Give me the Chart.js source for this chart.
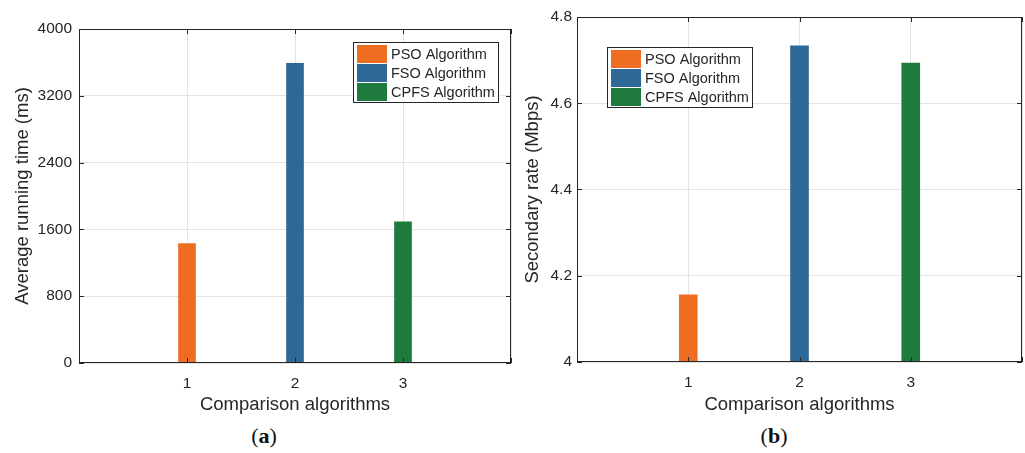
<!DOCTYPE html>
<html>
<head>
<meta charset="utf-8">
<script src="https://cdn.jsdelivr.net/npm/chart.js@4.4.0/dist/chart.umd.min.js"></script>
<style>
    body { margin: 0; background: #fff; width: 1025px; height: 453px; position: relative; overflow: hidden; }
    canvas { position: absolute; top: 0; }
    #chartA { left: 0; }
    #chartB { left: 512px; }
    .cap { position: absolute; top: 423px; font-family: "Liberation Serif", "DejaVu Serif", serif; font-size: 22px; color: #111; transform: translateX(-50%); }
</style>
</head>
<body>
<canvas id="chartA" width="512" height="420"></canvas>
<canvas id="chartB" width="513" height="420"></canvas>
<div class="cap" style="left:264px">(<b>a</b>)</div>
<div class="cap" style="left:774px">(<b>b</b>)</div>

<script>
    // data
    const algorithms = ['PSO Algorithm', 'FSO Algorithm', 'CPFS Algorithm']
    const positions = [1, 2, 3]
    const runningTime = [1429, 3589, 1692]        // ms
    const secondaryRate = [4.156, 4.733, 4.693]   // Mbps
    const xTicks = [0, 1, 2, 3, 4]
    const timeTicks = [0, 800, 1600, 2400, 3200, 4000]
    const rateTicks = [4, 4.2, 4.4, 4.6, 4.8]

    const barColors = ['#ef6c23', '#2d6896', '#1e7b3d']
    const textColor = '#262626'
    const fontFamily = '"Liberation Sans", Arial, sans-serif'

    // MATLAB style box with inward ticks on all four sides
    const boxTicks = {
        id: 'boxTicks',
        afterDatasetsDraw(chart) {
            const { ctx, chartArea: a, scales } = chart
            const x = scales.x, y = scales.y
            ctx.save()
            ctx.strokeStyle = textColor
            ctx.lineWidth = 1
            ctx.strokeRect(Math.round(a.left) + 0.5, Math.round(a.top) + 0.5,
                Math.round(a.right - a.left) - 1, Math.round(a.bottom - a.top) - 1)
            ctx.beginPath()
            x.ticks.forEach(t => {
                let px = Math.round(x.getPixelForValue(t.value)) + 0.5
                ctx.moveTo(px, a.bottom); ctx.lineTo(px, a.bottom - 5)
                ctx.moveTo(px, a.top); ctx.lineTo(px, a.top + 5)
            })
            y.ticks.forEach(t => {
                let py = Math.round(y.getPixelForValue(t.value)) + 0.5
                ctx.moveTo(a.left, py); ctx.lineTo(a.left + 5, py)
                ctx.moveTo(a.right, py); ctx.lineTo(a.right - 5, py)
            })
            ctx.stroke()
            ctx.restore()
        }
    }

    // legend box drawn inside the plot
    const boxLegend = {
        id: 'boxLegend',
        afterDraw(chart, args, opts) {
            const ctx = chart.ctx
            const sets = chart.data.datasets
            ctx.save()
            ctx.font = '14.5px ' + fontFamily
            let textW = Math.max(...sets.map(d => ctx.measureText(d.label).width))
            let rowH = 19
            let w = Math.round(4 + 30 + 4 + textW + 4)
            let h = 3 + rowH * sets.length + 1
            let left = opts.left, top = opts.top
            ctx.fillStyle = '#fff'
            ctx.fillRect(left, top, w, h)
            ctx.strokeStyle = textColor
            ctx.lineWidth = 1
            ctx.strokeRect(left + 0.5, top + 0.5, w - 1, h - 1)
            ctx.textBaseline = 'middle'
            sets.forEach((d, i) => {
                let ry = top + 3 + i * rowH
                ctx.fillStyle = d.backgroundColor
                ctx.fillRect(left + 4, ry, 30, rowH - 1)
                ctx.fillStyle = textColor
                ctx.fillText(d.label, left + 38, ry + rowH / 2)
            })
            ctx.restore()
        }
    }

    function makeChart(id, values, yTicks, opt) {
        const datasets = algorithms.map((name, i) => ({
            label: name,
            data: [{ x: positions[i], y: values[i] }],
            backgroundColor: barColors[i],
            borderWidth: 0,
            barThickness: opt.barW,
            grouped: false
        }))
        new Chart(document.getElementById(id), {
            type: 'bar',
            data: { datasets: datasets },
            plugins: [boxTicks, boxLegend],
            options: {
                responsive: false,
                animation: false,
                layout: { padding: { left: 0, top: opt.top, right: opt.right, bottom: 0 } },
                plugins: {
                    legend: { display: false },
                    tooltip: { enabled: false },
                    boxLegend: { left: opt.legendLeft, top: opt.legendTop }
                },
                scales: {
                    x: {
                        type: 'linear',
                        offset: false,
                        min: xTicks[0],
                        max: xTicks[xTicks.length - 1],
                        afterBuildTicks: s => { s.ticks = xTicks.map(v => ({ value: v })) },
                        afterFit: s => {
                            s.height = opt.xH
                            s.paddingLeft = 0
                            s.paddingRight = 0
                        },
                        grid: { color: '#e4e4e4', drawTicks: false, offset: false },
                        border: { display: false },
                        ticks: {
                            padding: 11,
                            color: textColor,
                            font: { family: fontFamily, size: 15.5 },
                            callback: v => (v === xTicks[0] || v === xTicks[xTicks.length - 1]) ? '' : String(v)
                        },
                        title: {
                            display: true,
                            text: 'Comparison algorithms',
                            color: textColor,
                            font: { family: fontFamily, size: 18.5 },
                            padding: { top: 0, bottom: 4 }
                        }
                    },
                    y: {
                        min: yTicks[0],
                        max: yTicks[yTicks.length - 1],
                        afterBuildTicks: s => { s.ticks = yTicks.map(v => ({ value: v })) },
                        afterFit: s => { s.width = opt.yW },
                        grid: { color: '#e4e4e4', drawTicks: false },
                        border: { display: false },
                        ticks: {
                            padding: opt.yPad,
                            color: textColor,
                            font: { family: fontFamily, size: 15.5 },
                            callback: v => String(Number(v.toFixed(1)))
                        },
                        title: {
                            display: true,
                            text: opt.yTitle,
                            color: textColor,
                            font: { family: fontFamily, size: 18.5 },
                            padding: { top: opt.titlePad, bottom: 0 }
                        }
                    }
                }
            }
        })
    }

    makeChart('chartA', runningTime, timeTicks, {
        yTitle: 'Average running time (ms)', barW: 17,
        top: 29, right: 1, xH: 57, yW: 79, yPad: 7, titlePad: 12,
        legendLeft: 353, legendTop: 42
    })
    makeChart('chartB', secondaryRate, rateTicks, {
        yTitle: 'Secondary rate (Mbps)', barW: 18,
        top: 17, right: 3, xH: 58, yW: 65, yPad: 5, titlePad: 10,
        legendLeft: 95, legendTop: 47
    })
</script>
</body>
</html>
